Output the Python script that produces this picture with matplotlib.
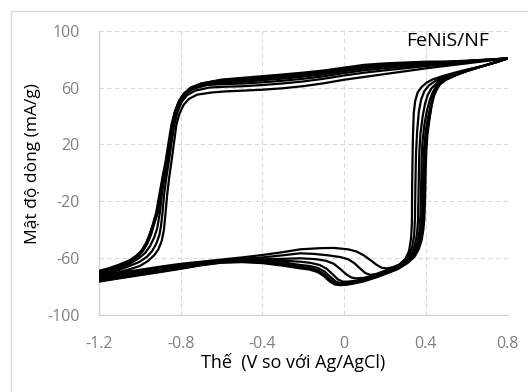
import matplotlib
matplotlib.use("Agg")
import matplotlib.pyplot as plt
from matplotlib.patches import Rectangle

plt.rcParams['font.family'] = ['Open Sans', 'DejaVu Sans']

# ---------------------------------------------------------------
# CV cycles, cycle 0 = first (innermost)
# each cycle: rise (x, y) -> top branch on top_x -> return on ret_x
#             -> drop (x, y) -> bottom band on band_x
# ---------------------------------------------------------------
top_x = [-0.5, -0.4, -0.3, -0.2, -0.1, 0.0, 0.1, 0.2, 0.3, 0.4, 0.5, 0.6, 0.7, 0.8]
ret_x = [0.75, 0.7, 0.65, 0.6, 0.55, 0.5, 0.47]
band_x = [-0.3, -0.4, -0.5, -0.6, -0.7, -0.8, -0.9, -1.0, -1.1, -1.2]

rise0 = [(-1.20, -73.0), (-1.15, -71.5), (-1.10, -69.8), (-1.05, -67.8), (-1.00, -65.5),
         (-0.96, -62.0), (-0.93, -58.0), (-0.91, -54.0), (-0.893, -48.0), (-0.882, -40.0),
         (-0.874, -28.0), (-0.866, -15.0), (-0.856, -3.0), (-0.845, 8.0), (-0.833, 21.0),
         (-0.821, 34.0), (-0.805, 42.0), (-0.785, 48.0), (-0.76, 52.0), (-0.72, 55.0),
         (-0.65, 56.5), (-0.58, 57.3)]
rise1 = [(-1.20, -72.4), (-1.15, -70.5), (-1.10, -68.2), (-1.05, -65.5), (-1.00, -62.5),
         (-0.965, -59.0), (-0.94, -55.0), (-0.92, -50.0), (-0.905, -44.0), (-0.897, -38.0),
         (-0.889, -28.0), (-0.881, -15.0), (-0.87, -3.0), (-0.858, 8.0), (-0.845, 21.0),
         (-0.831, 34.0), (-0.815, 43.0), (-0.795, 50.0), (-0.77, 54.5), (-0.73, 57.8),
         (-0.66, 60.0), (-0.58, 60.6)]
rise2 = [(-1.20, -71.7), (-1.15, -69.5), (-1.10, -67.0), (-1.05, -64.0), (-1.01, -60.5),
         (-0.975, -56.5), (-0.95, -51.5), (-0.93, -45.5), (-0.915, -39.0), (-0.902, -28.0),
         (-0.892, -15.0), (-0.879, -3.0), (-0.865, 8.0), (-0.851, 21.0), (-0.836, 34.0),
         (-0.82, 43.5), (-0.80, 51.0), (-0.775, 55.5), (-0.74, 59.0), (-0.67, 61.8),
         (-0.58, 62.5)]
rise3 = [(-1.20, -71.0), (-1.15, -68.7), (-1.10, -66.2), (-1.05, -63.2), (-1.015, -59.5),
         (-0.985, -55.0), (-0.962, -49.5), (-0.944, -43.0), (-0.93, -36.0), (-0.912, -28.0),
         (-0.898, -15.0), (-0.883, -3.0), (-0.868, 8.0), (-0.854, 21.0), (-0.839, 34.0),
         (-0.824, 44.0), (-0.803, 51.5), (-0.778, 56.0), (-0.745, 59.5), (-0.675, 62.5),
         (-0.58, 63.6)]
rise4 = [(-1.20, -70.3), (-1.15, -68.0), (-1.10, -65.5), (-1.05, -62.5), (-1.02, -59.5),
         (-0.99, -55.0), (-0.965, -49.0), (-0.947, -42.5), (-0.932, -36.0), (-0.914, -28.0),
         (-0.899, -15.0), (-0.885, -3.0), (-0.87, 8.0), (-0.856, 21.0), (-0.841, 34.0),
         (-0.826, 43.5), (-0.806, 51.0), (-0.782, 56.0), (-0.748, 59.8), (-0.69, 62.6),
         (-0.60, 64.3)]
rise5 = [(-1.20, -69.6), (-1.15, -67.5), (-1.10, -65.0), (-1.05, -62.0), (-1.02, -59.0),
         (-0.993, -55.0), (-0.97, -50.0), (-0.952, -44.0), (-0.937, -37.5), (-0.917, -28.0),
         (-0.901, -15.0), (-0.887, -3.0), (-0.871, 8.0), (-0.857, 21.0), (-0.842, 34.0),
         (-0.828, 43.0), (-0.808, 50.5), (-0.784, 55.8), (-0.75, 60.0), (-0.695, 63.0),
         (-0.60, 65.2)]
rise6 = [(-1.20, -69.0), (-1.15, -67.0), (-1.10, -64.5), (-1.05, -61.5), (-1.015, -58.0),
         (-0.99, -54.5), (-0.97, -49.5), (-0.953, -43.5), (-0.938, -37.0), (-0.92, -28.0),
         (-0.904, -15.0), (-0.889, -3.0), (-0.874, 8.0), (-0.86, 21.0), (-0.845, 34.0),
         (-0.83, 42.5), (-0.81, 50.0), (-0.787, 55.0), (-0.752, 59.8), (-0.70, 62.8),
         (-0.60, 65.6)]

top0 = [57.8, 58.5, 59.5, 61.0, 63.0, 65.5, 67.5, 69.5, 71.5, 73.5, 75.3, 77.0, 78.8, 80.5]
top1 = [60.9, 61.8, 62.9, 64.3, 66.2, 68.5, 70.5, 72.1, 73.6, 75.1, 76.4, 77.7, 79.1, 80.5]
top2 = [62.8, 63.7, 64.8, 66.2, 67.9, 70.2, 72.2, 73.6, 74.9, 76.1, 77.0, 78.0, 79.3, 80.5]
top3 = [64.1, 65.2, 66.3, 67.7, 69.3, 71.5, 73.5, 74.8, 75.8, 76.8, 77.4, 78.3, 79.4, 80.5]
top4 = [65.0, 66.1, 67.3, 68.6, 70.2, 72.3, 74.3, 75.5, 76.4, 77.3, 77.7, 78.5, 79.5, 80.5]
top5 = [65.9, 67.1, 68.2, 69.6, 71.1, 73.2, 75.2, 76.3, 77.0, 77.7, 78.0, 78.7, 79.6, 80.5]
top6 = [66.8, 68.0, 69.2, 70.5, 72.0, 74.0, 76.0, 77.0, 77.6, 78.2, 78.3, 78.9, 79.7, 80.5]

ret0 = [78.0, 76.0, 74.2, 72.6, 70.8, 68.8, 67.5]
ret1 = [78.1, 76.0, 74.1, 72.3, 70.3, 68.0, 66.5]
ret2 = [78.1, 76.0, 74.0, 72.1, 69.8, 67.2, 65.5]
ret3 = [78.2, 76.0, 73.9, 71.9, 69.5, 66.6, 64.5]
ret4 = [78.2, 76.0, 73.9, 71.7, 69.2, 66.1, 63.7]
ret5 = [78.2, 76.0, 73.8, 71.6, 69.0, 65.8, 63.0]
ret6 = [78.2, 76.0, 73.8, 71.5, 68.8, 65.5, 62.3]

drop0 = [(0.43, 65.5), (0.405, 63.5), (0.38, 60.5), (0.36, 56.5), (0.348, 50.5), (0.341, 42.0),
         (0.337, 25.0), (0.335, 10.0), (0.333, -10.0), (0.332, -35.0), (0.328, -46.0),
         (0.318, -55.0), (0.30, -60.5), (0.27, -64.5), (0.24, -66.3), (0.21, -67.2),
         (0.185, -66.8), (0.16, -64.8), (0.13, -61.5), (0.096, -58.0), (0.06, -55.3),
         (0.02, -53.8), (-0.05, -52.8), (-0.12, -53.0), (-0.215, -53.8)]
drop1 = [(0.44, 64.0), (0.415, 61.5), (0.393, 57.5), (0.377, 51.5), (0.366, 43.0), (0.358, 30.0),
         (0.352, 14.0), (0.349, -10.0), (0.347, -32.0), (0.343, -44.0), (0.334, -51.5),
         (0.322, -56.5), (0.31, -60.5), (0.26, -66.0), (0.21, -68.3), (0.16, -71.0),
         (0.13, -71.8), (0.105, -70.6), (0.08, -67.5), (0.05, -63.5), (0.02, -60.8),
         (-0.02, -59.2), (-0.08, -58.0), (-0.15, -57.0), (-0.215, -56.6)]
drop2 = [(0.45, 62.5), (0.428, 59.5), (0.41, 55.0), (0.396, 48.5), (0.385, 40.0), (0.374, 28.0),
         (0.368, 14.0), (0.365, -10.0), (0.362, -33.0), (0.357, -43.0), (0.347, -50.5),
         (0.333, -56.0), (0.318, -59.5), (0.31, -61.3), (0.26, -66.5), (0.21, -68.9),
         (0.16, -71.6), (0.10, -73.8), (0.06, -74.3), (0.035, -73.6), (0.01, -71.3),
         (-0.02, -67.5), (-0.05, -64.0), (-0.09, -61.8), (-0.14, -60.7), (-0.215, -60.1)]
drop3 = [(0.452, 61.0), (0.435, 57.0), (0.42, 51.5), (0.406, 44.0), (0.393, 34.0), (0.384, 22.0),
         (0.38, 12.0), (0.377, -10.0), (0.374, -30.0), (0.368, -42.0), (0.358, -49.5),
         (0.344, -55.5), (0.326, -59.5), (0.31, -62.0), (0.26, -67.0), (0.21, -69.4),
         (0.16, -72.2), (0.11, -74.3), (0.06, -75.8), (0.02, -76.5), (-0.005, -76.6),
         (-0.03, -75.0), (-0.055, -71.5), (-0.085, -67.5), (-0.12, -64.8), (-0.165, -63.3),
         (-0.215, -62.5)]
drop4 = [(0.452, 60.0), (0.437, 55.0), (0.424, 48.0), (0.412, 40.0), (0.40, 30.0), (0.392, 18.0),
         (0.388, 5.0), (0.386, -10.0), (0.383, -30.0), (0.378, -40.0), (0.369, -48.0),
         (0.355, -54.5), (0.334, -59.5), (0.31, -62.6), (0.26, -67.3), (0.21, -69.9),
         (0.16, -72.7), (0.12, -74.5), (0.06, -76.3), (0.015, -77.4), (-0.015, -77.7),
         (-0.04, -76.5), (-0.065, -73.5), (-0.095, -69.5), (-0.13, -66.8), (-0.17, -65.5),
         (-0.215, -64.8)]
drop5 = [(0.455, 59.5), (0.44, 54.5), (0.428, 47.0), (0.417, 38.0), (0.405, 27.0), (0.397, 15.0),
         (0.394, 2.0), (0.392, -10.0), (0.388, -31.0), (0.383, -40.0), (0.374, -47.5),
         (0.36, -54.0), (0.338, -59.5), (0.31, -63.1), (0.26, -67.6), (0.21, -70.3),
         (0.16, -73.2), (0.13, -74.5), (0.07, -76.6), (0.02, -78.0), (-0.015, -78.5),
         (-0.04, -78.0), (-0.065, -75.5), (-0.095, -71.5), (-0.13, -68.5), (-0.17, -66.8),
         (-0.215, -66.0)]
drop6 = [(0.455, 59.0), (0.44, 54.5), (0.428, 47.5), (0.418, 38.0), (0.408, 27.0), (0.402, 14.0),
         (0.399, 0.0), (0.398, -10.0), (0.393, -32.0), (0.388, -40.0), (0.38, -47.0),
         (0.366, -53.5), (0.345, -59.0), (0.31, -63.5), (0.26, -67.9), (0.21, -70.7),
         (0.16, -73.4), (0.10, -76.2), (0.05, -77.8), (0.01, -78.8), (-0.02, -79.0),
         (-0.045, -78.6), (-0.07, -76.5), (-0.10, -72.5), (-0.13, -69.8), (-0.17, -68.0),
         (-0.215, -67.2)]

band0 = [-55.8, -57.8, -59.5, -61.0, -62.5, -64.0, -66.0, -68.2, -70.5, -72.8]
band1 = [-58.0, -59.5, -60.5, -61.8, -63.2, -64.8, -66.8, -69.0, -71.3, -73.6]
band2 = [-60.5, -60.8, -61.2, -62.2, -63.8, -65.6, -67.7, -69.9, -72.2, -74.5]
band3 = [-61.8, -61.7, -61.7, -62.5, -64.2, -66.2, -68.4, -70.6, -72.9, -75.2]
band4 = [-63.0, -62.4, -62.1, -62.8, -64.6, -66.8, -69.0, -71.2, -73.5, -75.8]
band5 = [-64.2, -63.0, -62.5, -63.0, -64.8, -67.2, -69.4, -71.6, -73.9, -76.2]
band6 = [-65.3, -63.5, -62.8, -63.2, -65.0, -67.5, -69.8, -72.0, -74.2, -76.5]

cycles = [
    (rise0, top0, ret0, drop0, band0),
    (rise1, top1, ret1, drop1, band1),
    (rise2, top2, ret2, drop2, band2),
    (rise3, top3, ret3, drop3, band3),
    (rise4, top4, ret4, drop4, band4),
    (rise5, top5, ret5, drop5, band5),
    (rise6, top6, ret6, drop6, band6),
]

x_ticks = [-1.2, -0.8, -0.4, 0.0, 0.4, 0.8]
x_labels = ['-1.2', '-0.8', '-0.4', '0', '0.4', '0.8']
y_ticks = [-100, -60, -20, 20, 60, 100]
y_labels = ['-100', '-60', '-20', '20', '60', '100']

W, H = 528, 392
fig = plt.figure(figsize=(W / 100, H / 100), dpi=100)
ax = fig.add_axes([99 / W, 1 - 315 / H, (507.5 - 99) / W, (315 - 30.7) / H])

for rise, top, ret, drop, band in cycles:
    xs = [p[0] for p in rise] + top_x + ret_x + [p[0] for p in drop] + band_x
    ys = [p[1] for p in rise] + top + ret + [p[1] for p in drop] + band
    ax.plot(xs, ys, color='black', lw=1.6, solid_joinstyle='round',
            solid_capstyle='round', zorder=3)

ax.set_xlim(-1.2, 0.8)
ax.set_ylim(-100, 100)
ax.set_xticks(x_ticks)
ax.set_xticklabels(x_labels)
ax.set_yticks(y_ticks)
ax.set_yticklabels(y_labels)
ax.tick_params(length=0, labelsize=11.5, labelcolor='#808080')
ax.tick_params(axis='y', pad=14)
ax.tick_params(axis='x', pad=15)
ax.grid(True, ls=(0, (4, 3)), color='#d9d9d9', lw=0.8, zorder=0)
for side in ('top', 'right'):
    ax.spines[side].set_visible(False)
for side in ('left', 'bottom'):
    ax.spines[side].set_color('#d0d0d0')
    ax.spines[side].set_linewidth(0.9)

fig.text(33 / W, 1 - 164 / H, 'Mật độ dòng (mA/g)', rotation=90,
         ha='center', va='center', fontsize=12.5, color='black')
fig.text(293 / W, 1 - 362 / H, 'Thế  (V so với Ag/AgCl)',
         ha='center', va='center', fontsize=13, color='black')
fig.text(448 / W, 1 - 41 / H, 'FeNiS/NF', ha='center', va='center',
         fontsize=14, color='black')

# outer chart-area frame, cut by the right and bottom edges
fig.add_artist(Rectangle((11 / W, -0.1), 1.2, 1.1 - 11 / H,
                         transform=fig.transFigure, fill=False,
                         edgecolor='#d9d9d9', lw=1.0))

fig.savefig('out.png', dpi=100)
